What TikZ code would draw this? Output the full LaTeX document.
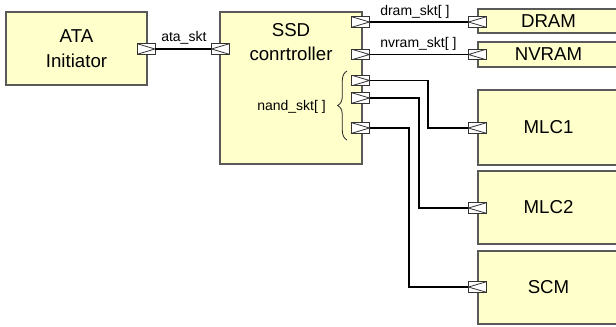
\documentclass[tikz,border=0pt]{standalone}
\usepackage{fontspec}
\setmainfont{Liberation Sans}
\usetikzlibrary{calc,decorations.pathreplacing}
\definecolor{boxfill}{RGB}{255,255,204}

\begin{document}
\begin{tikzpicture}[x=0.75pt, y=-0.75pt,
	blok/.style={draw=black!65, line width=1pt, fill=boxfill, inner sep=0pt,
		font=\fontsize{14}{18.5}\selectfont, align=center},
	sktR/.style={draw=black!80, fill=white, line width=0.6pt, minimum width=13.5pt,
		minimum height=8pt, inner sep=0pt,
		path picture={\draw[black!80, line width=0.6pt] (path picture bounding box.north west)
			-- (path picture bounding box.east) -- (path picture bounding box.south west);}},
	sktL/.style={draw=black!80, fill=white, line width=0.6pt, minimum width=13.5pt,
		minimum height=8pt, inner sep=0pt,
		path picture={\draw[black!80, line width=0.6pt] (path picture bounding box.north east)
			-- (path picture bounding box.west) -- (path picture bounding box.south east);}},
	wire/.style={line width=1.3pt},
	lbl/.style={font=\fontsize{10.5}{12}\selectfont, inner sep=0pt}]
	\useasboundingbox (0,0) rectangle (616,326);
	\clip (0,0) rectangle (616,326);
	
	% blocks
	\node[blok, minimum width=105.75pt, minimum height=54.75pt] (ata) at (76.5,48.5) {ATA\\Initiator};
	\node[blok, minimum width=106.5pt, minimum height=114pt] (ssd) at (291,88) {};
	\node[font=\fontsize{14}{18.5}\selectfont, align=center, anchor=north, inner sep=0pt] (ssdtxt) at (291,23) {SSD\\conrtroller};
	
	\foreach \n/\t/\y/\h in {dram/DRAM/21/18, nvram/NVRAM/54.5/18.75, mlcA/MLC1/127.5/56.25,
		mlcB/MLC2/207.5/54.75, scm/SCM/287.5/54.75} {
		\node[blok, minimum width=105.75pt, minimum height=\h pt] (\n) at (548.5,\y) {\t};
	}
	
	% sockets
	\foreach \n/\x/\y/\s in {ataO/146/49/sktR, ssdI/220.5/49/sktL,
		dramO/360.5/22/sktR, nvramO/360.5/54.5/sktR,
		nandA/360.5/80.5/sktR, nandB/360.5/98/sktR, nandC/360.5/128/sktR,
		dramI/477.5/22/sktL, nvramI/477.5/54.5/sktL, mlcAI/477.5/128/sktL,
		mlcBI/477.5/208/sktL, scmI/477.5/287/sktL} {
		\node[\s] (\n) at (\x,\y) {};
	}
	
	% wires
	\draw[wire] (ataO.east) -- (ssdI.west);
	\draw[wire] (dramO.east) -- (dramI.west);
	\draw[wire] (nvramO.east) -- (nvramI.west);
	\draw[wire] (nandA.east) -- ++(58,0) |- (mlcAI.west);
	\draw[wire] (nandB.east) -- ++(49,0) |- (mlcBI.west);
	\draw[wire] (nandC.east) -- ++(39,0) |- (scmI.west);
	
	% socket labels
	\node[lbl, anchor=base west] (ataskt) at (161,41) {ata\_skt};
	\node[lbl, anchor=base west] (dramskt) at (380,15) {dram\_skt[ ]};
	\node[lbl, anchor=base west] (nvramskt) at (380,47) {nvram\_skt[ ]};
	\node[lbl, anchor=base west] (nandskt) at (257,110) {nand\_skt[ ]};
	\draw[black!85, line width=0.6pt, decorate, decoration={brace, amplitude=7pt}] (347,140) -- (347,71);
\end{tikzpicture}
\end{document}
